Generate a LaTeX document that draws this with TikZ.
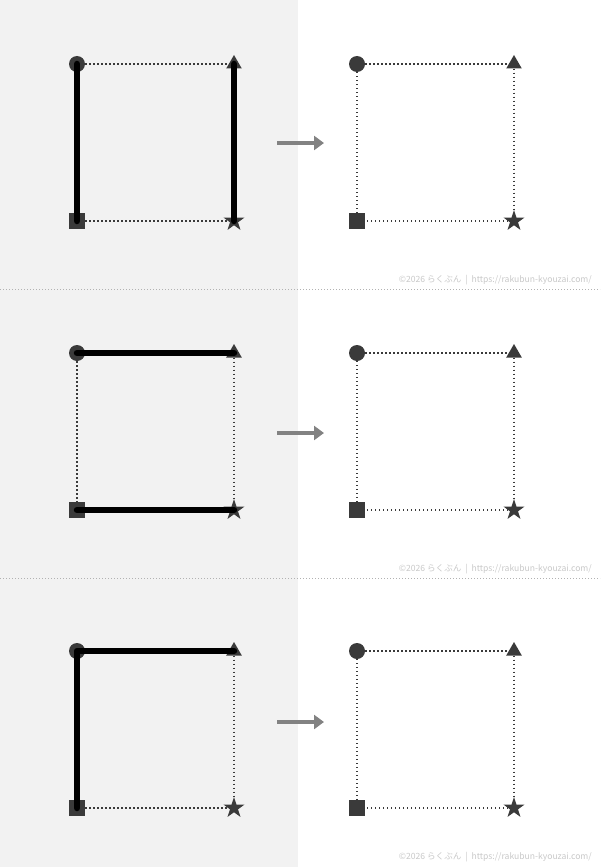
\documentclass[tikz,border=0pt]{standalone}
\usepackage{fontspec}
\newfontfamily\jpfont{Noto Sans CJK JP}
\usetikzlibrary{arrows.meta,shapes.geometric}
\definecolor{markgray}{RGB}{58,58,58}
\definecolor{panelgray}{RGB}{242,242,242}
\definecolor{arrowgray}{RGB}{130,130,130}
\definecolor{notegray}{RGB}{200,200,200}
\tikzset{
  mk/.style={fill=markgray, draw=none, inner sep=0pt},
  mkcirc/.style={mk, circle, minimum size=16pt},
  mksq/.style={mk, rectangle, minimum size=16pt},
  mktri/.style={mk, regular polygon, regular polygon sides=3, minimum size=18pt},
  mkstar/.style={mk, star, star points=5, star point ratio=2.6, minimum size=22pt},
  stroke/.style={black, line width=6.5pt, line cap=round, line join=round},
  guide/.style={markgray, line width=1.3pt, dash pattern=on 1.3pt off 2.7pt},
  sep/.style={gray!60, line width=0.8pt, dash pattern=on 0.8pt off 2.2pt},
  move/.style={arrowgray, line width=4pt, -{Triangle[length=10pt,width=14pt]}},
  note/.style={notegray, anchor=east, inner sep=0pt, font=\jpfont\fontsize{8.6}{9}\selectfont}
}
% four marks of one square: circle, triangle, square, star
\def\marks(#1,#2)#3{%
  \node[mkcirc] (#3C) at (#1,#2) {};
  \node[mktri] (#3T) at (#1+157,#2) {};
  \node[mksq] (#3S) at (#1,#2+157) {};
  \node[mkstar] (#3X) at (#1+157,#2+157) {};
}

\begin{document}
\begin{tikzpicture}[x=1pt,y=-1pt]
		%%%%% START %%%%%
		\useasboundingbox (0,0) rectangle (600,867);
		\fill[panelgray] (0,0) rectangle (298,867);
		
		% separators
		\coordinate (sepAl) at (0,289);
		\coordinate (sepAr) at (600,289);
		\coordinate (sepBl) at (0,578);
		\coordinate (sepBr) at (600,578);
		\draw[sep] (sepAl) -- (sepAr);
		\draw[sep] (sepBl) -- (sepBr);
		
		% panel 1
		\marks(77,64){aL}
		\marks(357,64){aR}
		\draw[guide] (aLC) -- (aLT);
		\draw[guide] (aLS) -- (aLX);
		\draw[stroke] (aLC.center) -- (aLS.center);
		\draw[stroke] (aLX.center) -- (aLT.center);
		\draw[guide] (aRC) -- (aRT) -- (aRX) -- (aRS) -- (aRC);
		\coordinate (mvAs) at (277,143);
		\coordinate (mvAe) at (324,143);
		\draw[move] (mvAs) -- (mvAe);
		\node[note] (noteA) at (592,280) {©2026 らくぶん \ | \ https://rakubun-kyouzai.com/};
		
		% panel 2
		\marks(77,353){bL}
		\marks(357,353){bR}
		\draw[guide] (bLC) -- (bLS);
		\draw[guide] (bLT) -- (bLX);
		\draw[stroke] (bLC.center) -- (bLT.center);
		\draw[stroke] (bLS.center) -- (bLX.center);
		\draw[guide] (bRC) -- (bRT) -- (bRX) -- (bRS) -- (bRC);
		\coordinate (mvBs) at (277,433);
		\coordinate (mvBe) at (324,433);
		\draw[move] (mvBs) -- (mvBe);
		\node[note] (noteB) at (592,569) {©2026 らくぶん \ | \ https://rakubun-kyouzai.com/};
		
		% panel 3
		\marks(77,651){cL}
		\marks(357,651){cR}
		\draw[guide] (cLT) -- (cLX);
		\draw[guide] (cLS) -- (cLX);
		\draw[stroke] (cLS.center) -- (cLC.center) -- (cLT.center);
		\draw[guide] (cRC) -- (cRT) -- (cRX) -- (cRS) -- (cRC);
		\coordinate (mvCs) at (277,722);
		\coordinate (mvCe) at (324,722);
		\draw[move] (mvCs) -- (mvCe);
		\node[note] (noteC) at (592,857) {©2026 らくぶん \ | \ https://rakubun-kyouzai.com/};
		%%%%% END %%%%%
\end{tikzpicture}
\end{document}
